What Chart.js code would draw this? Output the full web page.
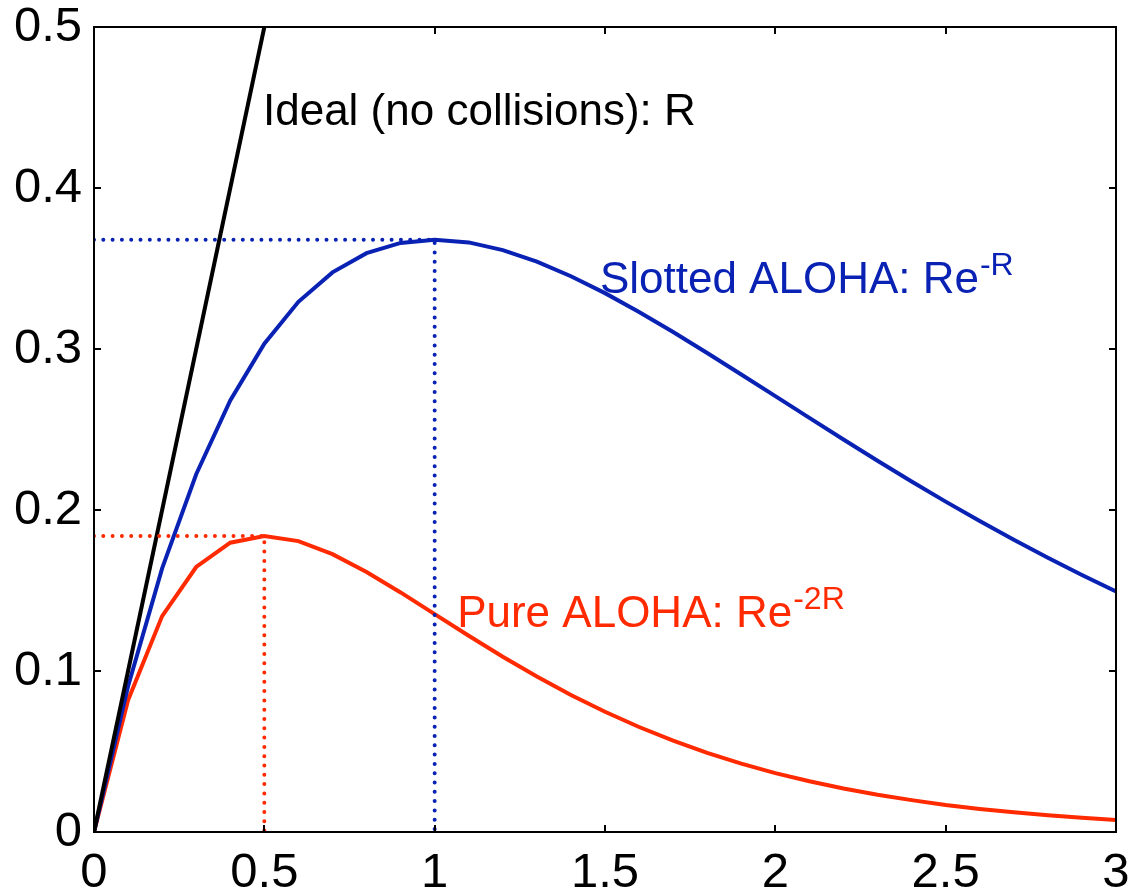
<!DOCTYPE html>
<html>
<head>
<meta charset="utf-8">
<script src="https://cdn.jsdelivr.net/npm/chart.js@4/dist/chart.umd.min.js"></script>
<style>
html,body{margin:0;padding:0;background:#fff;}
canvas{display:block;}
</style>
</head>
<body>
<canvas id="c" width="1134" height="894"></canvas>
<script>
// ---- data ----
const xValues = [0,0.1,0.2,0.3,0.4,0.5,0.6,0.7,0.8,0.9,1.0,1.1,1.2,1.3,1.4,1.5,1.6,1.7,1.8,1.9,2.0,2.1,2.2,2.3,2.4,2.5,2.6,2.7,2.8,2.9,3.0];
const slottedValues = [0,0.0905,0.1637,0.2222,0.2681,0.3033,0.3293,0.3476,0.3595,0.3659,0.3679,0.3662,0.3614,0.3543,0.3452,0.3347,0.3230,0.3106,0.2975,0.2842,0.2707,0.2572,0.2438,0.2306,0.2177,0.2052,0.1931,0.1815,0.1703,0.1596,0.1494];
const pureValues = [0,0.0819,0.1341,0.1646,0.1797,0.1839,0.1807,0.1726,0.1615,0.1488,0.1353,0.1219,0.1089,0.0966,0.0851,0.0747,0.0652,0.0568,0.0492,0.0425,0.0366,0.0315,0.0270,0.0231,0.0198,0.0168,0.0143,0.0122,0.0104,0.0088,0.0074];
const idealX = [0, 0.5];
const idealY = [0, 0.5];
const slottedGuideX = [0, 1, 1];
const slottedGuideY = [0.3679, 0.3679, 0];
const pureGuideX = [0, 0.5, 0.5];
const pureGuideY = [0.1839, 0.1839, 0];
const xTickValues = [0, 0.5, 1, 1.5, 2, 2.5, 3];
const xTickLabels = ['0', '0.5', '1', '1.5', '2', '2.5', '3'];
const yTickValues = [0, 0.1, 0.2, 0.3, 0.4, 0.5];
const yTickLabels = ['0', '0.1', '0.2', '0.3', '0.4', '0.5'];
const annotationTexts = ['Ideal (no collisions): R', 'Slotted ALOHA: Re', 'Pure ALOHA: Re'];
const annotationSups = ['', '-R', '-2R'];

// ---- styles ----
const BLUE = '#0a22b4';
const RED = '#ff2a00';
const BLACK = '#000000';
const FONT = '"Liberation Sans", Arial, Helvetica, sans-serif';

function pts(xs, ys) { return xs.map((x, i) => ({x: x, y: ys[i]})); }

const annotationStyle = [
  {x: 0.496, y: 0.439, color: BLACK},
  {x: 1.485, y: 0.3348, color: BLUE},
  {x: 1.066, y: 0.1273, color: RED}
];

const framePlugin = {
  id: 'frame',
  afterDatasetsDraw(chart) {
    const ctx = chart.ctx, a = chart.chartArea;
    const xs = chart.scales.x, ys = chart.scales.y;
    ctx.save();
    ctx.strokeStyle = '#000';
    ctx.lineWidth = 2;
    ctx.strokeRect(a.left, a.top, a.right - a.left, a.bottom - a.top);
    const L = 7;
    ctx.beginPath();
    xTickValues.forEach(v => {
      const p = Math.round(xs.getPixelForValue(v));
      ctx.moveTo(p, a.bottom); ctx.lineTo(p, a.bottom - L);
      ctx.moveTo(p, a.top); ctx.lineTo(p, a.top + L);
    });
    yTickValues.forEach(v => {
      const p = Math.round(ys.getPixelForValue(v));
      ctx.moveTo(a.left, p); ctx.lineTo(a.left + L, p);
      ctx.moveTo(a.right, p); ctx.lineTo(a.right - L, p);
    });
    ctx.stroke();
    // annotations
    ctx.textBaseline = 'alphabetic';
    ctx.textAlign = 'left';
    annotationTexts.forEach((t, i) => {
      const s = annotationStyle[i];
      const px = xs.getPixelForValue(s.x), py = ys.getPixelForValue(s.y);
      ctx.fillStyle = s.color;
      ctx.font = '44px ' + FONT;
      ctx.fillText(t, px, py);
      if (annotationSups[i]) {
        const w = ctx.measureText(t).width;
        ctx.font = '32px ' + FONT;
        ctx.fillText(annotationSups[i], px + w + 1, py - 18);
      }
    });
    ctx.restore();
  }
};

const dotted = {borderWidth: 4, borderDash: [0, 9.3], borderCapStyle: 'round', pointRadius: 0, fill: false, tension: 0};

new Chart(document.getElementById('c'), {
  type: 'line',
  data: {
    datasets: [
      Object.assign({label: 'slotted guide', data: pts(slottedGuideX, slottedGuideY), borderColor: BLUE}, dotted),
      Object.assign({label: 'pure guide', data: pts(pureGuideX, pureGuideY), borderColor: RED}, dotted),
      {label: 'Ideal', data: pts(idealX, idealY), borderColor: BLACK, borderWidth: 4, pointRadius: 0, fill: false, tension: 0},
      {label: 'Slotted ALOHA', data: pts(xValues, slottedValues), borderColor: BLUE, borderWidth: 4, pointRadius: 0, fill: false, tension: 0},
      {label: 'Pure ALOHA', data: pts(xValues, pureValues), borderColor: RED, borderWidth: 4, pointRadius: 0, fill: false, tension: 0}
    ]
  },
  options: {
    responsive: false,
    animation: false,
    devicePixelRatio: 1,
    layout: {padding: {top: 27, right: 18, left: 0, bottom: 0}},
    plugins: {legend: {display: false}, tooltip: {enabled: false}},
    scales: {
      x: {
        type: 'linear', min: 0, max: 3,
        afterBuildTicks(scale) { scale.ticks = xTickValues.map(v => ({value: v})); },
        afterFit(scale) { scale.height = 62; scale.paddingLeft = 0; scale.paddingRight = 0; },
        grid: {display: false, drawTicks: false},
        border: {display: false},
        ticks: {
          color: '#000', padding: 17, maxRotation: 0, autoSkip: false,
          font: {family: FONT, size: 49, lineHeight: 1},
          callback: (v) => { const i = xTickValues.indexOf(v); return i >= 0 ? xTickLabels[i] : ''; }
        }
      },
      y: {
        type: 'linear', min: 0, max: 0.5,
        afterBuildTicks(scale) { scale.ticks = yTickValues.map(v => ({value: v})); },
        afterFit(scale) { scale.width = 94; scale.paddingTop = 0; scale.paddingBottom = 0; },
        grid: {display: false, drawTicks: false},
        border: {display: false},
        ticks: {
          color: '#000', padding: 12, autoSkip: false,
          font: {family: FONT, size: 49, lineHeight: 1},
          callback: (v) => { const i = yTickValues.indexOf(v); return i >= 0 ? yTickLabels[i] : ''; }
        }
      }
    }
  },
  plugins: [framePlugin]
});
</script>
</body>
</html>
